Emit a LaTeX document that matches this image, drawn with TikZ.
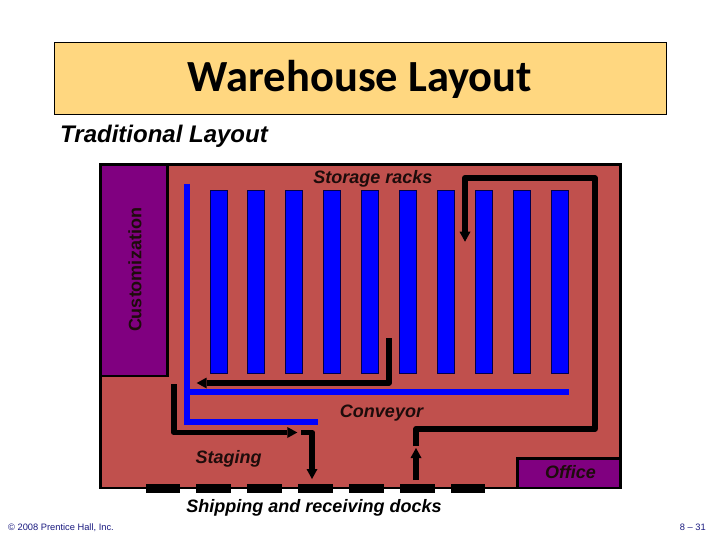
\documentclass[tikz,border=0pt]{standalone}
\usepackage{fontspec}
\setmainfont{Liberation Sans}
\newfontfamily\titlefont{Carlito}
\usetikzlibrary{arrows.meta}
\definecolor{wall}{HTML}{C0504D}
\definecolor{room}{HTML}{800080}
\definecolor{belt}{HTML}{0000FF}
\definecolor{banner}{HTML}{FFD780}
\definecolor{foot}{HTML}{1A1A80}
\tikzset{
  label18/.style={inner sep=0pt,font=\fontsize{18}{18}\selectfont\bfseries\itshape,text=black!85!wall},
  rack/.style={draw=black!70!belt,line width=0.7pt,fill=belt},
  flow/.style={draw=black,line width=5.8pt,line join=round},
  flowtip/.style={flow,-{Triangle[length=10pt,width=11pt,line width=0pt]}},
  beltline/.style={draw=belt,line width=6pt,line join=miter},
  dock/.style={fill=black,draw=none},
  room box/.style={draw=black,line width=2.6pt,fill=room},
  footer/.style={inner sep=0pt,text=foot,font=\fontsize{9.3}{10}\selectfont}
}
\begin{document}
\begin{tikzpicture}[x=1pt,y=-1pt]
\useasboundingbox (0,0) rectangle (720,540);
\fill[white] (0,0) rectangle (720,540);
\node[draw=black,line width=1pt,fill=banner,minimum width=612pt,minimum height=72pt,inner sep=0pt,anchor=north west] (banner) at (54.3,42.5) {};
\node[inner sep=0pt,font=\titlefont\fontsize{44.5}{44.5}\selectfont\bfseries] (title) at (360,79.5) {Warehouse Layout};
\node[inner sep=0pt,anchor=west,font=\fontsize{24}{24}\selectfont\bfseries\itshape,text=black] (sub) at (60,136) {Traditional Layout};
\draw[draw=black,line width=2.8pt,fill=wall] (100.5,164.5) rectangle (620.5,488);
\draw[room box] (100.5,164.5) rectangle (167.5,376);
\draw[room box] (517.5,458.5) rectangle (620.5,488);
\foreach \x in {210,247,285,323.3,361.3,399.3,437.3,475.3,513.3,551.3}
  \draw[rack] (\x,190) rectangle ++(17.4,183.7);
\coordinate (b1) at (187,183.7);
\coordinate (b2) at (187,422);
\coordinate (b3) at (318,422);
\coordinate (b4) at (187,392);
\coordinate (b5) at (569,392);
\draw[beltline] (b1) -- (b2) -- (b3);
\draw[beltline] (b4) -- (b5);
\foreach \a/\b in {146/180,196/231,247/282,298/333,349/384,400/435,451/485}
  \fill[dock] (\a,484) rectangle (\b,492.7);
\coordinate (a1) at (416,446);
\coordinate (a2) at (416,429);
\coordinate (a3) at (594.7,429);
\coordinate (a4) at (594.7,178);
\coordinate (a5) at (465,178);
\coordinate (a6) at (465,241.7);
\draw[flowtip] (a1) -- (a2) -- (a3) -- (a4) -- (a5) -- (a6);
\coordinate (c1) at (416,480);
\coordinate (c2) at (416,448);
\draw[flowtip] (c1) -- (c2);
\coordinate (d1) at (389,338.3);
\coordinate (d2) at (389,383);
\coordinate (d3) at (196.7,383);
\draw[flowtip] (d1) -- (d2) -- (d3);
\coordinate (e1) at (174,384);
\coordinate (e2) at (174,432.5);
\coordinate (e3) at (297.3,432.5);
\draw[flowtip] (e1) -- (e2) -- (e3);
\coordinate (f1) at (301.3,432.5);
\coordinate (f2) at (312,432.5);
\coordinate (f3) at (312,479);
\draw[flowtip] (f1) -- (f2) -- (f3);
\node[label18] (racks) at (373,179) {Storage racks};
\node[label18,font=\fontsize{18}{18}\selectfont\bfseries,rotate=90] (cust) at (135,270) {Customization};
\node[label18] (conv) at (381.5,413) {Conveyor};
\node[label18] (stag) at (228.5,459) {Staging};
\node[label18] (off) at (570.5,472.5) {Office};
\node[label18,text=black] (docks) at (314,508) {Shipping and receiving docks};
\node[footer,anchor=west] (copy) at (8,527.5) {© 2008 Prentice Hall, Inc.};
\node[footer,anchor=east] (page) at (706,527.5) {8 – 31};
\end{tikzpicture}
\end{document}
